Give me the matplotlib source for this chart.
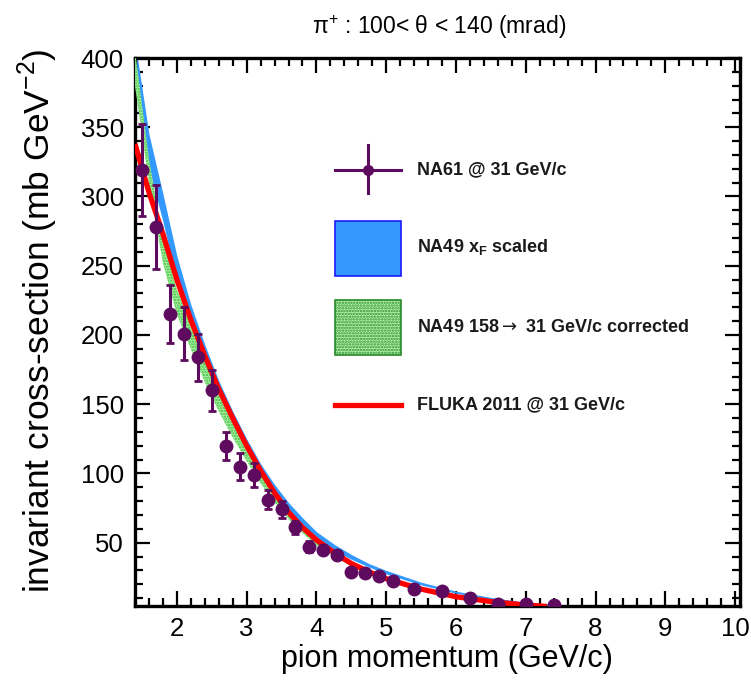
import matplotlib
matplotlib.use("Agg")
import matplotlib.pyplot as plt
from matplotlib.ticker import MultipleLocator
from matplotlib.patches import Rectangle
from matplotlib.lines import Line2D

plt.rcParams['font.family'] = ['Liberation Sans', 'DejaVu Sans']
plt.rcParams['hatch.linewidth'] = 1.2

# ---------------- data ----------------
model_x = [1.4, 1.6, 1.8, 2.0, 2.2, 2.4, 2.6, 2.8, 3.0, 3.2, 3.4, 3.6, 3.8,
           4.0, 4.25, 4.5, 4.75, 5.0, 5.5, 6.0, 6.5, 7.0, 7.6]
blue_lo = [385, 320, 282, 238, 206, 178, 154, 133, 115, 99, 85, 73, 63,
           54, 45, 38, 32.5, 27.5, 19.5, 13.5, 9, 6, 4]
blue_hi = [412, 345, 302, 257, 222, 193, 167, 145, 125, 107, 92, 79, 68,
           58, 49, 41.5, 35, 30, 21.5, 15, 10.5, 7, 4.8]
green_lo = [380, 310, 252, 215, 190, 166, 145, 126, 109, 93, 79, 67, 57,
            48, 40, 33, 27.5, 23, 16, 10.5, 7, 4.8, 3.5]
green_hi = [405, 327, 269, 233, 206, 180, 157, 137, 118, 101, 86, 73, 62,
            53, 44, 36.5, 30.5, 25.5, 17.5, 12, 8, 5.5, 4]

fluka_x = [1.4, 1.6, 1.8, 2.0, 2.2, 2.4, 2.6, 2.8, 3.0, 3.2, 3.4, 3.6, 3.8,
           4.0, 4.25, 4.5, 4.75, 5.0, 5.5, 6.0, 6.5, 7.0, 7.3]
fluka_y = [338, 303, 273, 240, 211, 185, 161, 140, 120, 102, 86, 72, 61,
           52, 43, 35, 29, 24, 16.5, 11, 7.5, 5, 4]

na61_x = [1.5, 1.7, 1.9, 2.1, 2.3, 2.5, 2.7, 2.9, 3.1, 3.3, 3.5, 3.7, 3.9,
          4.1, 4.3, 4.5, 4.7, 4.9, 5.1, 5.4, 5.8, 6.2, 6.6, 7.0, 7.4]
na61_y = [319, 278, 215, 201, 184, 160, 120, 105, 99, 81, 74, 61, 47,
          45, 41, 29, 28, 26, 22, 16.5, 15, 10, 6, 6, 5]
na61_err = [33, 30, 21, 19, 17, 15, 10, 9.5, 8.5, 7, 6, 5, 4,
            3.5, 3, 2.5, 2.5, 2, 2, 1.5, 1.5, 1, 1, 1, 1]

title = "π$^{\\mathregular{+}}$ : 100< θ < 140 (mrad)"
xlabel = "pion momentum (GeV/c)"
ylabel = "invariant cross-section (mb GeV$^{\\mathregular{-2}}$)"
legend_labels = ["NA61 @ 31 GeV/c",
                 "NA49 x$_{\\mathregular{F}}$ scaled",
                 "NA49 158$\\rightarrow$ 31 GeV/c corrected",
                 "FLUKA 2011 @ 31 GeV/c"]

purple = "#5e0a5e"
blue = "#3399ff"
green_face = "#b8f5b0"
green_hatch = "#33b833"

# ---------------- figure ----------------
W, H = 751, 681
fig = plt.figure(figsize=(W / 100, H / 100), dpi=100)
L, R, T, B = 135, 740, 58, 606
ax = fig.add_axes([L / W, 1 - B / H, (R - L) / W, (B - T) / H])

ax.fill_between(model_x, blue_lo, blue_hi, color=blue, lw=0, zorder=2)
ax.fill_between(model_x, green_lo, green_hi, facecolor=green_face,
                edgecolor=green_hatch, hatch='......', lw=0, zorder=3)
ax.plot(fluka_x, fluka_y, color='#ff0000', lw=3.8, zorder=4,
        solid_capstyle='butt')
ax.errorbar(na61_x, na61_y, yerr=na61_err, fmt='o', color=purple,
            ms=9, elinewidth=2.2, capsize=3, capthick=2, zorder=5)

ax.set_xlim(1.4, 10.07)
ax.set_ylim(4.3, 400)
ax.xaxis.set_major_locator(MultipleLocator(1))
ax.xaxis.set_minor_locator(MultipleLocator(0.2))
ax.yaxis.set_major_locator(MultipleLocator(50))
ax.yaxis.set_minor_locator(MultipleLocator(10))
ax.set_xticks([2, 3, 4, 5, 6, 7, 8, 9, 10])
ax.set_yticks([50, 100, 150, 200, 250, 300, 350, 400])

ax.tick_params(which='both', direction='in', top=True, right=True,
               width=1.6, labelsize=18.5)
ax.tick_params(which='major', length=11, pad=8)
ax.tick_params(which='minor', length=5.5)
for s in ax.spines.values():
    s.set_linewidth(2.4)

fig.text(439 / W, 1 - 27 / H, title, ha='center', va='center', fontsize=16.5)
fig.text(447 / W, 1 - 659 / H, xlabel, ha='center', va='center', fontsize=22)
fig.text(38 / W, 1 - 321 / H, ylabel, ha='center', va='center',
         fontsize=25.5, rotation=90)

# ---------------- legend (drawn in figure pixels) ----------------
def fx(px):
    return px / W

def fy(py):
    return 1 - py / H

# NA61 entry
fig.add_artist(Line2D([fx(335), fx(401)], [fy(170), fy(170)], color=purple, lw=2.2))
fig.add_artist(Line2D([fx(368), fx(368)], [fy(145), fy(193)], color=purple, lw=2.2))
fig.add_artist(Line2D([fx(368)], [fy(170)], marker='o', ms=7, color=purple))
# NA49 xF scaled
fig.add_artist(Rectangle((fx(335), fy(276)), fx(401) - fx(335), fy(221) - fy(276),
                         facecolor=blue, edgecolor='#1a1aff', lw=1.2,
                         transform=fig.transFigure))
# NA49 corrected
fig.add_artist(Rectangle((fx(335), fy(355)), fx(401) - fx(335), fy(300) - fy(355),
                         facecolor=green_face, edgecolor='#2a8a2a', lw=1.2,
                         hatch='......', transform=fig.transFigure))
# FLUKA
fig.add_artist(Line2D([fx(335), fx(401)], [fy(405), fy(405)], color='#ff0000', lw=3.8))

for lab, py in zip(legend_labels, [170, 247, 328, 405]):
    fig.text(fx(417), fy(py), lab, ha='left', va='center', fontsize=13,
             fontweight='bold', color='#1a1a1a')

fig.savefig("out.png", dpi=100)
